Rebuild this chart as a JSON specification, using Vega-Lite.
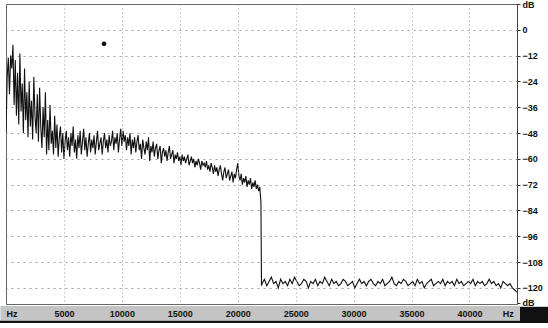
{
 "$schema": "https://vega.github.io/schema/vega-lite/v6.json",
 "width": 511,
 "height": 300,
 "autosize": {"type": "none"},
 "padding": {"left": 6, "top": 4, "right": 31, "bottom": 24},
 "background": "white",
 "config": {
  "view": {"stroke": "#666", "strokeWidth": 1},
  "axis": {"labelFont": "Liberation Sans", "labelFontWeight": "bold", "labelFontSize": 9, "labelColor": "#111", "title": null, "labelOverlap": false}
 },
 "layer": [
  {
   "data": {"values": [
    {"f":0,"d":-48},{"f":100,"d":-22},{"f":200,"d":-13},{"f":300,"d":-30},{"f":400,"d":-12},{"f":500,"d":-18},{"f":600,"d":-7},{"f":700,"d":-35},{"f":800,"d":-14},{"f":900,"d":-40},
    {"f":1000,"d":-20},{"f":1100,"d":-44},{"f":1200,"d":-11},{"f":1300,"d":-38},{"f":1400,"d":-25},{"f":1500,"d":-48},{"f":1600,"d":-18},{"f":1700,"d":-42},{"f":1800,"d":-29},{"f":1900,"d":-50},
    {"f":2000,"d":-24},{"f":2100,"d":-45},{"f":2200,"d":-33},{"f":2300,"d":-51},{"f":2400,"d":-22},{"f":2500,"d":-40},{"f":2600,"d":-48},{"f":2700,"d":-30},{"f":2800,"d":-52},{"f":2900,"d":-27},
    {"f":3000,"d":-45},{"f":3100,"d":-55},{"f":3200,"d":-36},{"f":3300,"d":-50},{"f":3400,"d":-29},{"f":3500,"d":-58},{"f":3600,"d":-42},{"f":3700,"d":-56},{"f":3800,"d":-35},{"f":3900,"d":-53},
    {"f":4000,"d":-47},{"f":4100,"d":-58},{"f":4200,"d":-40},{"f":4300,"d":-55},{"f":4400,"d":-44},{"f":4500,"d":-59},{"f":4600,"d":-50},{"f":4700,"d":-45},{"f":4800,"d":-57},{"f":4900,"d":-48},
    {"f":5000,"d":-60},{"f":5100,"d":-52},{"f":5200,"d":-47},{"f":5300,"d":-56},{"f":5400,"d":-50},{"f":5500,"d":-59},{"f":5600,"d":-48},{"f":5700,"d":-54},{"f":5800,"d":-45},{"f":5900,"d":-57},
    {"f":6000,"d":-51},{"f":6100,"d":-60},{"f":6200,"d":-49},{"f":6300,"d":-55},{"f":6400,"d":-47},{"f":6500,"d":-58},{"f":6600,"d":-52},{"f":6700,"d":-46},{"f":6800,"d":-56},{"f":6900,"d":-50},
    {"f":7000,"d":-59},{"f":7100,"d":-53},{"f":7200,"d":-48},{"f":7300,"d":-57},{"f":7400,"d":-51},{"f":7500,"d":-55},{"f":7600,"d":-49},{"f":7700,"d":-58},{"f":7800,"d":-52},{"f":7900,"d":-47},
    {"f":8000,"d":-56},{"f":8100,"d":-53},{"f":8200,"d":-50},{"f":8300,"d":-58},{"f":8400,"d":-52},{"f":8500,"d":-48},{"f":8600,"d":-55},{"f":8700,"d":-51},{"f":8800,"d":-57},{"f":8900,"d":-49},
    {"f":9000,"d":-54},{"f":9100,"d":-52},{"f":9200,"d":-47},{"f":9300,"d":-56},{"f":9400,"d":-50},{"f":9500,"d":-53},{"f":9600,"d":-48},{"f":9700,"d":-57},{"f":9800,"d":-51},{"f":9900,"d":-46},
    {"f":10000,"d":-54},{"f":10100,"d":-47},{"f":10200,"d":-52},{"f":10300,"d":-49},{"f":10400,"d":-56},{"f":10500,"d":-50},{"f":10600,"d":-54},{"f":10700,"d":-48},{"f":10800,"d":-58},{"f":10900,"d":-51},
    {"f":11000,"d":-55},{"f":11100,"d":-50},{"f":11200,"d":-57},{"f":11300,"d":-52},{"f":11400,"d":-49},{"f":11500,"d":-56},{"f":11600,"d":-53},{"f":11700,"d":-60},{"f":11800,"d":-51},{"f":11900,"d":-55},
    {"f":12000,"d":-58},{"f":12100,"d":-52},{"f":12200,"d":-56},{"f":12300,"d":-50},{"f":12400,"d":-61},{"f":12500,"d":-54},{"f":12600,"d":-57},{"f":12700,"d":-52},{"f":12800,"d":-59},{"f":12900,"d":-55},
    {"f":13000,"d":-53},{"f":13100,"d":-60},{"f":13200,"d":-56},{"f":13300,"d":-54},{"f":13400,"d":-62},{"f":13500,"d":-57},{"f":13600,"d":-55},{"f":13700,"d":-59},{"f":13800,"d":-56},{"f":13900,"d":-61},
    {"f":14000,"d":-57},{"f":14100,"d":-54},{"f":14200,"d":-60},{"f":14300,"d":-58},{"f":14400,"d":-56},{"f":14500,"d":-62},{"f":14600,"d":-58},{"f":14700,"d":-60},{"f":14800,"d":-57},{"f":14900,"d":-61},
    {"f":15000,"d":-59},{"f":15100,"d":-63},{"f":15200,"d":-58},{"f":15300,"d":-61},{"f":15400,"d":-59},{"f":15500,"d":-62},{"f":15600,"d":-60},{"f":15700,"d":-58},{"f":15800,"d":-63},{"f":15900,"d":-61},
    {"f":16000,"d":-59},{"f":16100,"d":-62},{"f":16200,"d":-60},{"f":16300,"d":-64},{"f":16400,"d":-61},{"f":16500,"d":-63},{"f":16600,"d":-60},{"f":16700,"d":-62},{"f":16800,"d":-65},{"f":16900,"d":-61},
    {"f":17000,"d":-63},{"f":17100,"d":-62},{"f":17200,"d":-64},{"f":17300,"d":-61},{"f":17400,"d":-65},{"f":17500,"d":-63},{"f":17600,"d":-66},{"f":17700,"d":-62},{"f":17800,"d":-64},{"f":17900,"d":-67},
    {"f":18000,"d":-63},{"f":18100,"d":-66},{"f":18200,"d":-64},{"f":18300,"d":-68},{"f":18400,"d":-65},{"f":18500,"d":-63},{"f":18600,"d":-67},{"f":18700,"d":-70},{"f":18800,"d":-66},{"f":18900,"d":-64},
    {"f":19000,"d":-69},{"f":19100,"d":-67},{"f":19200,"d":-65},{"f":19300,"d":-70},{"f":19400,"d":-68},{"f":19500,"d":-66},{"f":19600,"d":-71},{"f":19700,"d":-67},{"f":19800,"d":-69},{"f":19900,"d":-65},
    {"f":20000,"d":-62},{"f":20100,"d":-68},{"f":20200,"d":-70},{"f":20300,"d":-67},{"f":20400,"d":-72},{"f":20500,"d":-69},{"f":20600,"d":-71},{"f":20700,"d":-68},{"f":20800,"d":-73},{"f":20900,"d":-70},
    {"f":21000,"d":-72},{"f":21100,"d":-69},{"f":21200,"d":-74},{"f":21300,"d":-71},{"f":21400,"d":-73},{"f":21500,"d":-70},{"f":21600,"d":-74},{"f":21700,"d":-72},{"f":21800,"d":-75},{"f":21900,"d":-73},
    {"f":22000,"d":-80},{"f":22050,"d":-119},
    {"f":22100,"d":-118},{"f":22300,"d":-116},{"f":22500,"d":-119},{"f":22700,"d":-117},{"f":22900,"d":-115},{"f":23100,"d":-118},{"f":23300,"d":-117},{"f":23500,"d":-120},{"f":23700,"d":-116},{"f":23900,"d":-118},
    {"f":24100,"d":-117},{"f":24300,"d":-119},{"f":24500,"d":-116},{"f":24700,"d":-118},{"f":24900,"d":-115},{"f":25100,"d":-117},{"f":25300,"d":-119},{"f":25500,"d":-118},{"f":25700,"d":-116},{"f":25900,"d":-117},
    {"f":26100,"d":-120},{"f":26300,"d":-117},{"f":26500,"d":-118},{"f":26700,"d":-116},{"f":26900,"d":-119},{"f":27100,"d":-117},{"f":27300,"d":-118},{"f":27500,"d":-115},{"f":27700,"d":-117},{"f":27900,"d":-119},
    {"f":28100,"d":-116},{"f":28300,"d":-118},{"f":28500,"d":-117},{"f":28700,"d":-119},{"f":28900,"d":-118},{"f":29100,"d":-116},{"f":29300,"d":-117},{"f":29500,"d":-119},{"f":29700,"d":-118},{"f":29900,"d":-117},
    {"f":30100,"d":-120},{"f":30300,"d":-118},{"f":30500,"d":-116},{"f":30700,"d":-118},{"f":30900,"d":-117},{"f":31100,"d":-119},{"f":31300,"d":-117},{"f":31500,"d":-116},{"f":31700,"d":-118},{"f":31900,"d":-119},
    {"f":32100,"d":-117},{"f":32300,"d":-118},{"f":32500,"d":-116},{"f":32700,"d":-119},{"f":32900,"d":-118},{"f":33100,"d":-117},{"f":33300,"d":-115},{"f":33500,"d":-118},{"f":33700,"d":-119},{"f":33900,"d":-117},
    {"f":34100,"d":-118},{"f":34300,"d":-116},{"f":34500,"d":-117},{"f":34700,"d":-119},{"f":34900,"d":-118},{"f":35100,"d":-117},{"f":35300,"d":-119},{"f":35500,"d":-116},{"f":35700,"d":-118},{"f":35900,"d":-117},
    {"f":36100,"d":-120},{"f":36300,"d":-118},{"f":36500,"d":-117},{"f":36700,"d":-116},{"f":36900,"d":-119},{"f":37100,"d":-118},{"f":37300,"d":-117},{"f":37500,"d":-118},{"f":37700,"d":-116},{"f":37900,"d":-119},
    {"f":38100,"d":-117},{"f":38300,"d":-118},{"f":38500,"d":-117},{"f":38700,"d":-119},{"f":38900,"d":-116},{"f":39100,"d":-118},{"f":39300,"d":-117},{"f":39500,"d":-119},{"f":39700,"d":-118},{"f":39900,"d":-117},
    {"f":40100,"d":-118},{"f":40300,"d":-116},{"f":40500,"d":-119},{"f":40700,"d":-117},{"f":40900,"d":-118},{"f":41100,"d":-117},{"f":41300,"d":-119},{"f":41500,"d":-118},{"f":41700,"d":-116},{"f":41900,"d":-118},
    {"f":42100,"d":-117},{"f":42300,"d":-119},{"f":42500,"d":-118},{"f":42700,"d":-120},{"f":42900,"d":-117},{"f":43100,"d":-118},{"f":43300,"d":-119},{"f":43500,"d":-118},{"f":43700,"d":-120},{"f":43900,"d":-121},
    {"f":44100,"d":-122}
   ]},
   "mark": {"type": "line", "color": "#111", "strokeWidth": 1.1, "clip": true},
   "encoding": {
    "x": {"field": "f", "type": "quantitative",
     "scale": {"domain": [0, 44100], "nice": false, "zero": false},
     "axis": {
      "orient": "bottom",
      "zindex": 1,
      "values": [0, 5000, 10000, 15000, 20000, 25000, 30000, 35000, 40000, 43300],
      "tickCount": 30,
      "format": "d",
      "labelExpr": "datum.value == 0 || datum.value > 41000 ? 'Hz' : datum.label",
      "labelAlign": {"condition": {"test": "datum.value == 0", "value": "left"}, "value": "center"},
      "labelBaseline": "middle",
      "labelPadding": 9,
      "labelOverlap": false,
      "ticks": false,
      "domain": false,
      "grid": true,
      "gridColor": {"condition": {"test": "datum.value == 0 || datum.value > 41000", "value": "transparent"}, "value": "#9a9a9a"},
      "gridDash": [1, 3],
      "gridWidth": 1
     }
    },
    "y": {"field": "d", "type": "quantitative",
     "scale": {"domain": [-127.5, 12], "nice": false, "zero": false},
     "axis": {
      "orient": "right",
      "values": [12, 0, -12, -24, -36, -48, -60, -72, -84, -96, -108, -120, -127],
      "tickCount": 30,
      "labelExpr": "datum.value == 12 || datum.value < -122 ? 'dB' : datum.label",
      "labelAlign": "left",
      "labelPadding": 2,
      "labelOverlap": false,
      "tickSize": 3,
      "tickColor": "#333",
      "domain": true,
      "domainColor": "#444",
      "grid": true,
      "gridColor": {"condition": {"test": "datum.value == 12 || datum.value < -122", "value": "transparent"}, "value": "#a0a0a0"},
      "gridDash": [2, 4],
      "gridWidth": 1
     }
    }
   }
  },
  {
   "data": {"values": [{"f": 8460, "d": -6.5}]},
   "mark": {"type": "point", "filled": true, "color": "#111", "size": 22, "opacity": 1},
   "encoding": {
    "x": {"field": "f", "type": "quantitative"},
    "y": {"field": "d", "type": "quantitative"}
   }
  },
  {
   "data": {"values": [{"f": 0}]},
   "mark": {"type": "rect", "color": "#c4c4c4", "clip": false},
   "encoding": {
    "x": {"datum": -480, "type": "quantitative"},
    "x2": {"datum": 44360},
    "y": {"datum": -128.4, "type": "quantitative"},
    "y2": {"datum": -135.3}
   }
  },
  {
   "data": {"values": [{"f": 0}]},
   "mark": {"type": "rect", "color": "#111", "clip": false},
   "encoding": {
    "x": {"datum": -520, "type": "quantitative"},
    "x2": {"datum": 46800},
    "y": {"datum": -135.3, "type": "quantitative"},
    "y2": {"datum": -136.3}
   }
  },
  {
   "data": {"values": [{"f": 0}]},
   "mark": {"type": "rect", "color": "#111", "clip": false},
   "encoding": {
    "x": {"datum": 44360, "type": "quantitative"},
    "x2": {"datum": 46800},
    "y": {"datum": -128.8, "type": "quantitative"},
    "y2": {"datum": -136.3}
   }
  }
 ]
}
